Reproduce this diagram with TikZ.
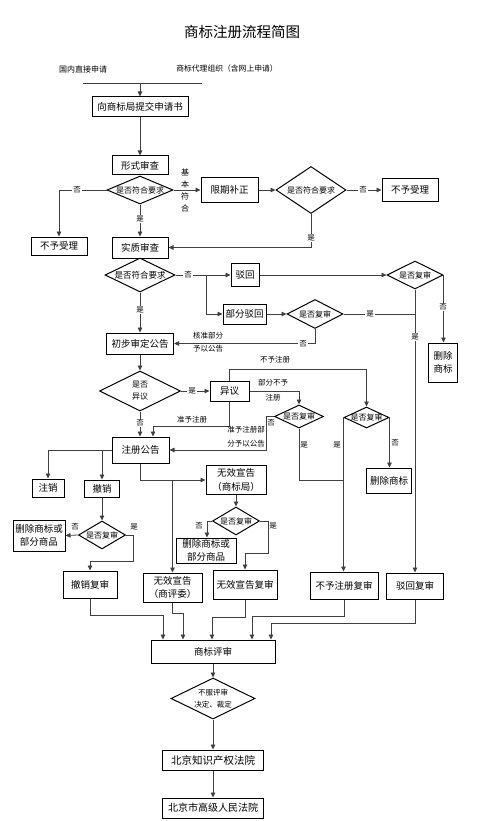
\documentclass[tikz,border=0pt]{standalone}
\usepackage{fontspec}
\setmainfont{Noto Sans CJK SC}
\usetikzlibrary{shapes.geometric,arrows.meta,calc}
\newcommand\dtx[1]{\vbox to 0pt{\vss\hbox to 0pt{\hss#1\hss}\vss}}
\newcommand\dty[2]{\vbox to 0pt{\vss\hbox to 0pt{\hss#1\hss}\hbox to 0pt{\hss#2\hss}\vss}}
\begin{document}
\begin{tikzpicture}[x=1pt,y=-1pt,
 box/.style={draw=black, line width=1pt, inner sep=0pt, align=center, font=\fontsize{9.5}{13.5}\selectfont},
 dia/.style={draw=black, diamond, line width=1pt, inner sep=0pt, font=\fontsize{8}{11}\selectfont},
 con/.style={draw=black!75, line width=0.8pt},
 arr/.style={con, -{Triangle[length=5pt,width=4.5pt]}},
 lab/.style={font=\fontsize{7.5}{9}\selectfont, inner sep=0.8pt, fill=white},
 txt/.style={font=\fontsize{7.5}{13}\selectfont, inner sep=0pt, align=center}]
\useasboundingbox (0,0) rectangle (500,821);
\fill[white] (0,0) rectangle (500,821);

% title and sources
\node[font=\fontsize{14.5}{16}\selectfont] (title) at (242,32) {商标注册流程简图};
\node[font=\fontsize{8}{9}\selectfont] (src1) at (83,69) {国内直接申请};
\node[font=\fontsize{7.8}{9}\selectfont] (src2) at (227,69) {商标代理组织（含网上申请）};
\coordinate (h1) at (83,84); \coordinate (h2) at (202,84); \coordinate (h0) at (140,84);
\draw[con, line width=1pt] (h1) -- (h2);

\node[box, minimum width=96pt, minimum height=20pt] (submit) at (140,107) {向商标局提交申请书};
\draw[arr] (h0) -- (submit.north);
\node[box, minimum width=56pt, minimum height=19pt] (formal) at (140,165.5) {形式审查};
\draw[arr] (submit) -- (formal);
\node[dia, minimum width=66pt, minimum height=28pt] (d1) at (140,190) {\dtx{是否符合要求}};
\draw[con] (formal.south) -- (d1.north);

\node[box, minimum width=56pt, minimum height=18pt] (rej1) at (59,246) {不予受理};
\draw[arr] (d1.west) -| (rej1.north);
\node[lab] (l1) at (77,190) {否};
\node[box, minimum width=56pt, minimum height=21pt] (subst) at (140,247.5) {实质审查};
\draw[arr] (d1.south) -- (subst.north);
\node[lab] (l2) at (140,219) {是};
\node[box, minimum width=57pt, minimum height=25pt] (corr) at (229.5,190) {限期补正};
\draw[arr] (d1.east) -- (corr.west);
\node[txt, font=\fontsize{8}{12}\selectfont] (l3) at (185,190) {基\\本\\符\\合};
\node[dia, minimum width=70pt, minimum height=47pt] (d2) at (311,190) {\dtx{是否符合要求}};
\draw[arr] (corr.east) -- (d2.west);
\node[box, minimum width=56pt, minimum height=22pt] (rej2) at (410,190) {不予受理};
\draw[arr] (d2.east) -- (rej2.west);
\node[lab] (l4) at (363,190) {否};
\draw[arr] (d2.south) |- (subst.east);
\node[lab] (l5) at (311,238) {是};

% substantive examination
\node[dia, minimum width=70pt, minimum height=34pt, font=\fontsize{8.5}{11}\selectfont] (d3) at (140,275) {\dtx{是否符合要求}};
\coordinate (s1) at (206,275);
\draw[con] (d3.east) -- (s1);
\node[lab] (l6) at (188,275) {否};
\node[box, minimum width=28pt, minimum height=23pt] (bh) at (245,275) {驳回};
\draw[arr] (s1) -- (bh.west);
\node[box, minimum width=43pt, minimum height=20pt] (pbh) at (244.5,314) {部分驳回};
\draw[arr] (s1) |- (pbh.west);
\node[dia, minimum width=56pt, minimum height=28pt] (d4) at (415,275) {\dtx{是否复审}};
\draw[arr] (bh.east) -- (d4.west);
\node[box, minimum width=29pt, minimum height=39pt] (del1) at (443,362.5) {删除\\商标};
\draw[arr] (d4.east) -- (d4.east |- del1.north);
\node[lab] (l7) at (443,307) {否};
\node[dia, minimum width=56pt, minimum height=29pt] (d5) at (315,314) {\dtx{是否复审}};
\draw[arr] (pbh.east) -- (d5.west);
\node[box, minimum width=57pt, minimum height=26pt] (bhfs) at (415,586) {驳回复审};
\draw[arr] (d4.south) -- (d4.south |- bhfs.north);
\node[lab] (l8) at (415,337) {是};
\coordinate (j1) at (415,314);
\draw[con] (d5.east) -- (j1);
\node[lab] (l9) at (370,314) {是};
\node[box, minimum width=67pt, minimum height=21pt] (prelim) at (140,343.5) {初步审定公告};
\draw[arr] (d3.south) -- (prelim.north);
\node[lab] (l10) at (140,310) {是};
\draw[arr] (d5.south) |- (prelim.east);
\node[lab] (l11) at (303,343.5) {否};
\node[txt] (l12) at (208,342.5) {核准部分\\予以公告};

% opposition
\node[dia, minimum width=81pt, minimum height=40pt, font=\fontsize{8}{12}\selectfont] (d6) at (140,391) {\dty{是否}{异议}};
\draw[arr] (prelim.south) -- (d6.north);
\node[box, minimum width=39pt, minimum height=20pt] (yy) at (229.5,391) {异议};
\draw[arr] (d6.east) -- (yy.west);
\node[lab] (l13) at (192,391) {是};
\node[dia, minimum width=49pt, minimum height=23pt] (d7) at (299,416.5) {\dtx{是否复审}};
\node[dia, minimum width=45pt, minimum height=21pt] (d8) at (366.5,417.5) {\dtx{是否复审}};
\coordinate (k3) at (366.5,369);
\draw[arr] (yy.north) |- (k3) -- (d8.north);
\node[txt] (l14) at (275,360) {不予注册};
\coordinate (k4) at (299,391);
\draw[arr] (yy.east) -- (k4) -- (d7.north);
\node[txt] (l15) at (273,383) {部分不予};
\node[txt] (l16) at (273,398) {注册};

\node[box, minimum width=57pt, minimum height=26pt] (zc) at (140.5,450) {注册公告};
\draw[arr] (d6.south) -- (d6.south |- zc.north);
\node[lab] (l17) at (140,423) {否};
\coordinate (k5) at (153,426);
\draw[arr] (yy.south) |- (k5) -- (k5 |- zc.north);
\node[txt] (l18) at (192,420) {准予注册};
\coordinate (k6) at (266,416.5); \coordinate (k7) at (266,450);
\draw[arr] (d7.west) -- (k6) -- (k7) -- (zc.east);
\node[txt] (l19) at (271,423) {否};
\node[txt, font=\fontsize{7.5}{14}\selectfont] (l20) at (246,437) {准予注册部\\分予以公告};

\node[box, minimum width=68pt, minimum height=27pt] (bzfs) at (344,585.5) {不予注册复审};
\draw[arr] (d8.west) -- (d8.west |- bzfs.north);
\node[txt] (l21) at (337,445) {是};
\coordinate (k8) at (299,480);
\draw[con] (d7.south) -- (k8) -- (k8 -| d8.west);
\node[txt] (l22) at (304,445) {是};
\node[box, minimum width=45pt, minimum height=25pt] (del2) at (389,480.5) {删除商标};
\draw[arr] (d8.east) -- (d8.east |- del2.north);
\node[txt] (l23) at (395,443) {否};

% after registration
\coordinate (k9) at (48,450); \coordinate (k10) at (102,450);
\node[box, minimum width=32pt, minimum height=18pt] (zx) at (48,488) {注销};
\node[box, minimum width=35pt, minimum height=17pt] (cx) at (102,488.5) {撤销};
\draw[arr] (zc.west) -- (k9) -- (zx.north);
\draw[arr] (k10) -- (cx.north);
\node[dia, minimum width=47pt, minimum height=28pt] (d9) at (102,535) {\dtx{是否复审}};
\draw[arr] (cx.south) -- (d9.north);
\node[box, minimum width=52pt, minimum height=31pt] (del3) at (39,535.5) {删除商标或\\部分商品};
\draw[arr] (d9.west) -- (del3.east);
\node[txt] (l24) at (75,527) {否};
\coordinate (k11) at (133,535); \coordinate (k12) at (133,561); \coordinate (k13) at (90,561);
\node[box, minimum width=54pt, minimum height=27pt] (cxfs) at (90,584.5) {撤销复审};
\draw[arr] (d9.east) -- (k11) -- (k12) -- (k13) -- (k13 |- cxfs.north);
\node[txt] (l25) at (134,527) {是};

\coordinate (k14) at (140.5,480); \coordinate (k15) at (172.5,480);
\node[box, minimum width=60pt, minimum height=29pt] (wx1) at (236,480) {无效宣告\\（商标局）};
\draw[arr] (zc.south) -- (k14) -- (wx1.west);
\node[box, minimum width=59pt, minimum height=29pt] (wx2) at (172.5,587.5) {无效宣告\\（商评委）};
\draw[arr] (k15) -- (k15 |- wx2.north);
\node[dia, minimum width=47pt, minimum height=28pt] (d10) at (236,521) {\dtx{是否复审}};
\draw[arr] (wx1.south) -- (d10.north);
\node[box, minimum width=60pt, minimum height=25pt] (del4) at (206,550.5) {删除商标或\\部分商品};
\coordinate (k16) at (207,521);
\draw[arr] (d10.west) -- (k16) -- (k16 |- del4.north);
\node[txt] (l26) at (199,526) {否};
\node[box, minimum width=64pt, minimum height=29pt] (wxfs) at (245,584.5) {无效宣告复审};
\coordinate (k17) at (268,521); \coordinate (k18) at (268,553); \coordinate (k19) at (245,553);
\draw[arr] (d10.east) -- (k17) -- (k18) -- (k19) -- (k19 |- wxfs.north);
\node[txt] (l27) at (273,526) {是};

% review
\node[box, minimum width=124pt, minimum height=23pt] (psh) at (213,651.5) {商标评审};
\coordinate (m1) at (90,615); \coordinate (m1b) at (163,615);
\draw[arr] (cxfs.south) -- (m1) -- (m1b) -- (m1b |- psh.north);
\coordinate (m2) at (172.5,613); \coordinate (m2b) at (183,613);
\draw[arr] (wx2.south) -- (m2) -- (m2b) -- (m2b |- psh.north);
\coordinate (m3) at (245,617); \coordinate (m3b) at (212,617);
\draw[arr] (wxfs.south) -- (m3) -- (m3b) -- (m3b |- psh.north);
\coordinate (m4) at (344,616); \coordinate (m4b) at (252,616);
\draw[arr] (bzfs.south) -- (m4) -- (m4b) -- (m4b |- psh.north);
\coordinate (m5) at (415,623); \coordinate (m5b) at (271,623);
\draw[arr] (bhfs.south) -- (m5) -- (m5b) -- (m5b |- psh.north);

\node[dia, minimum width=84pt, minimum height=41pt, font=\fontsize{7.5}{12}\selectfont] (d11) at (213,698.5) {\dty{不服评审}{决定、裁定}};
\draw[arr] (psh.south) -- (d11.north);
\node[box, minimum width=101pt, minimum height=20pt, font=\fontsize{10.5}{12}\selectfont] (c1) at (213,760) {北京知识产权法院};
\node[box, minimum width=101pt, minimum height=20pt, font=\fontsize{10}{12}\selectfont] (c2) at (213,808) {北京市高级人民法院};
\draw[arr] (d11.south) -- (c1.north);
\draw[arr] (c1.south) -- (c2.north);
\end{tikzpicture}
\end{document}
